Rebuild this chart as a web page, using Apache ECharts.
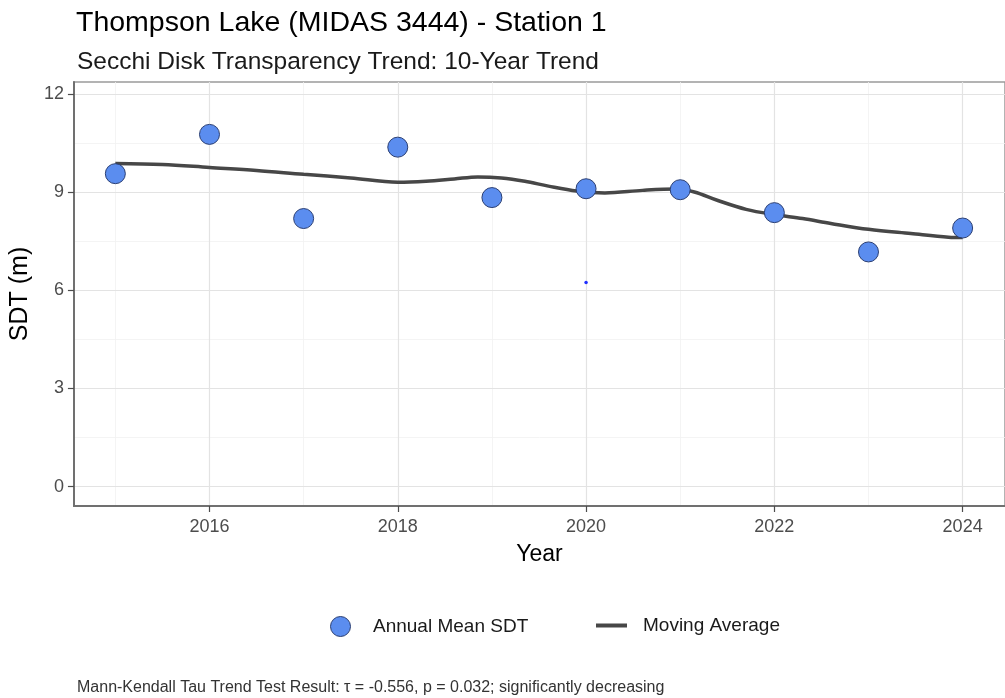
<!DOCTYPE html>
<html>
<head>
<meta charset="utf-8">
<script src="https://cdn.jsdelivr.net/npm/echarts@6/dist/echarts.min.js"></script>
<style>
  html, body { margin: 0; padding: 0; background: #ffffff; }
  #chart { width: 1005px; height: 698px; }
</style>
</head>
<body>
<div id="chart"></div>
<script>
// Annual mean Secchi disk transparency (m)
const years = [2015, 2016, 2017, 2018, 2019, 2020, 2021, 2022, 2023, 2024];
const annualMeanSDT = [9.56, 10.76, 8.19, 10.37, 8.83, 9.10, 9.07, 8.37, 7.17, 7.90];

// Smoothed moving-average curve (year, SDT)
const maYears = [2015, 2015.5, 2016, 2016.5, 2017, 2017.5, 2018, 2018.3, 2018.6, 2018.85, 2019.1,
  2019.35, 2019.6, 2019.9, 2020.2, 2020.6, 2020.95, 2021.15, 2021.4, 2021.7, 2022, 2022.3,
  2022.6, 2023, 2023.45, 2023.85, 2024];
const maValues = [9.87, 9.84, 9.75, 9.66, 9.54, 9.43, 9.30, 9.33, 9.40, 9.46, 9.43,
  9.33, 9.18, 9.03, 8.97, 9.05, 9.09, 9.00, 8.74, 8.47, 8.31, 8.19,
  8.04, 7.86, 7.73, 7.62, 7.61];

// Single small point plotted inside the panel
const extraYears = [2020];
const extraValues = [6.24];

// Axis ticks and grid lines
const xMajorTicks = [2016, 2018, 2020, 2022, 2024];
const xMinorTicks = [2015, 2017, 2019, 2021, 2023];
const yMajorTicks = [0, 3, 6, 9, 12];
const yMinorTicks = [1.5, 4.5, 7.5, 10.5];

const FONT = '"Liberation Sans", Arial, sans-serif';
const majorGrid = { color: '#e3e3e3', width: 1.2, type: 'solid' };
const minorGrid = { color: '#f1f1f1', width: 0.8, type: 'solid' };

const gridLines = [].concat(
  xMinorTicks.map(v => ({ xAxis: v, lineStyle: minorGrid })),
  yMinorTicks.map(v => ({ yAxis: v, lineStyle: minorGrid })),
  xMajorTicks.map(v => ({ xAxis: v, lineStyle: majorGrid })),
  yMajorTicks.map(v => ({ yAxis: v, lineStyle: majorGrid }))
);

const chart = echarts.init(document.getElementById('chart'), null, { renderer: 'canvas' });

chart.setOption({
  animation: false,
  backgroundColor: '#ffffff',
  textStyle: { fontFamily: FONT },
  title: [
    {
      text: 'Thompson Lake (MIDAS 3444) - Station 1',
      left: 71, top: 4,
      textStyle: { fontFamily: FONT, fontSize: 28.5, fontWeight: 'normal', color: '#000000' }
    },
    {
      text: 'Secchi Disk Transparency Trend: 10-Year Trend',
      left: 72, top: 45,
      textStyle: { fontFamily: FONT, fontSize: 24.5, fontWeight: 'normal', color: '#1a1a1a' }
    },
    {
      text: 'Mann-Kendall Tau Trend Test Result: \u03c4 = -0.556, p = 0.032; significantly decreasing',
      left: 72, top: 675,
      textStyle: { fontFamily: FONT, fontSize: 16, fontWeight: 'normal', color: '#333333' }
    }
  ],
  legend: [
    {
      data: [{ name: 'Annual Mean SDT', icon: 'circle' }],
      left: 325, top: 611,
      itemWidth: 31, itemHeight: 20,
      selectedMode: false,
      itemStyle: { borderWidth: 1, borderColor: '#2b3f73' },
      textStyle: { fontFamily: FONT, fontSize: 19, color: '#1a1a1a', padding: [0, 0, 0, 12] }
    },
    {
      data: [{ name: 'Moving Average', icon: 'rect' }],
      left: 591, top: 611,
      itemWidth: 31, itemHeight: 4,
      selectedMode: false,
      textStyle: { fontFamily: FONT, fontSize: 19, color: '#1a1a1a', padding: [0, 0, 0, 11] }
    }
  ],
  grid: {
    left: 73, top: 82, right: -7, bottom: 192,
    show: true, borderColor: '#9a9a9a', borderWidth: 1.5,
    containLabel: false
  },
  xAxis: {
    type: 'value',
    min: 2014.56, max: 2024.45,
    name: 'Year', nameLocation: 'middle', nameGap: 37,
    nameTextStyle: { fontFamily: FONT, fontSize: 23, color: '#000000' },
    axisLine: { show: true, onZero: false, lineStyle: { color: '#707070', width: 2 } },
    axisTick: { show: true, length: 6, customValues: xMajorTicks, lineStyle: { color: '#4d4d4d', width: 1.2 } },
    axisLabel: {
      customValues: xMajorTicks, margin: 12, fontFamily: FONT, fontSize: 18, color: '#4d4d4d',
      formatter: v => String(v)
    },
    splitLine: { show: false }
  },
  yAxis: {
    type: 'value',
    min: -0.59, max: 12.36,
    name: 'SDT (m)', nameLocation: 'middle', nameGap: 39, nameRotate: 90,
    nameTextStyle: { fontFamily: FONT, fontSize: 25, color: '#000000' },
    axisLine: { show: true, onZero: false, lineStyle: { color: '#707070', width: 2 } },
    axisTick: { show: true, length: 6, customValues: yMajorTicks, lineStyle: { color: '#4d4d4d', width: 1.2 } },
    axisLabel: {
      customValues: yMajorTicks, margin: 10, fontFamily: FONT, fontSize: 18, color: '#4d4d4d',
      formatter: v => String(v)
    },
    splitLine: { show: false }
  },
  series: [
    {
      name: 'grid-lines',
      type: 'line',
      data: [],
      z: 0,
      silent: true,
      markLine: {
        z: 0,
        silent: true,
        symbol: ['none', 'none'],
        label: { show: false },
        emphasis: { disabled: true },
        animation: false,
        data: gridLines
      }
    },
    {
      name: 'Moving Average',
      type: 'line',
      data: maYears.map((y, i) => [y, maValues[i]]),
      smooth: 0.35,
      symbol: 'none',
      z: 3,
      lineStyle: { color: '#474747', width: 3.5 },
      itemStyle: { color: '#474747' }
    },
    {
      name: 'Annual Mean SDT',
      type: 'scatter',
      data: years.map((y, i) => [y, annualMeanSDT[i]]),
      symbol: 'circle',
      symbolSize: 20,
      z: 4,
      itemStyle: { color: '#5b8def', borderColor: '#2b3f73', borderWidth: 1, opacity: 1 }
    },
    {
      name: 'extra-point',
      type: 'scatter',
      data: extraYears.map((y, i) => [y, extraValues[i]]),
      symbolSize: 3.5,
      z: 4,
      itemStyle: { color: '#1f2fff', opacity: 1 }
    }
  ]
});
</script>
</body>
</html>
